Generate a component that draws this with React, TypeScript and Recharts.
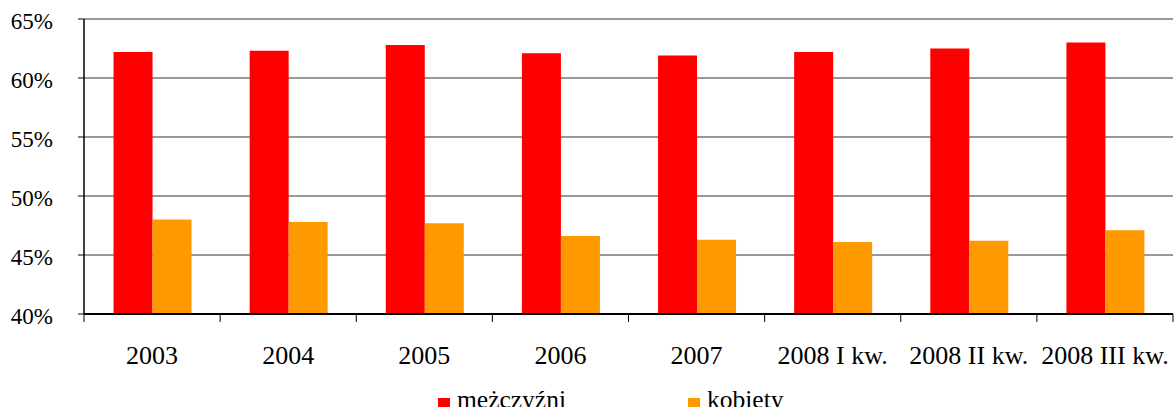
import React from "react";
import { BarChart, Bar, XAxis, YAxis, CartesianGrid, Legend } from "recharts";

const categories = ["2003", "2004", "2005", "2006", "2007", "2008 I kw.", "2008 II kw.", "2008 III kw."];
const men = [62.2, 62.3, 62.8, 62.1, 61.9, 62.2, 62.5, 63.0];
const women = [48.0, 47.8, 47.7, 46.6, 46.3, 46.1, 46.2, 47.1];
const yTicks = [40, 45, 50, 55, 60, 65];
const seriesNames = ["mężczyźni", "kobiety"];
const colors = ["#FF0000", "#FF9900"];

const data = categories.map((c, i) => ({ name: c, men: men[i], women: women[i] }));

const FONT = "Liberation Serif";

const XTick = (props: any) => {
  const { x, y, payload, index, visibleTicksCount } = props;
  const off = payload.offset || 0;
  const axisY = y - 10;
  return (
    <g>
      <line x1={x - off} x2={x - off} y1={axisY} y2={axisY + 8} stroke="#000" strokeWidth={1} />
      {index === visibleTicksCount - 1 && (
        <line x1={x + off} x2={x + off} y1={axisY} y2={axisY + 8} stroke="#000" strokeWidth={1} />
      )}
      <text x={x} y={axisY + 50} textAnchor="middle" fontFamily={FONT} style={{ fontFamily: FONT, fontSize: 26 }} fill="#000">
        {payload.value}
      </text>
    </g>
  );
};

const YTick = (props: any) => {
  const { x, y, payload } = props;
  return (
    <g>
      <text x={x} y={y} dy={10} textAnchor="end" fontFamily={FONT} style={{ fontFamily: FONT, fontSize: 23 }} fill="#000">
        {`${payload.value}%`}
      </text>
    </g>
  );
};

const LegendContent = () => (
  <div style={{ display: "flex", fontFamily: FONT, fontSize: 25.5, lineHeight: "23px", color: "#000" }}>
    {seriesNames.map((n, i) => (
      <div key={n} style={{ display: "flex", alignItems: "flex-start", width: i === 0 ? 250 : 120 }}>
        <div style={{ width: 12, height: 12, background: colors[i], marginTop: 10, marginRight: 7 }} />
        <span>{n}</span>
      </div>
    ))}
  </div>
);

export default function App() {
  return (
    <div style={{ position: "absolute", left: 0, top: 0, width: 1175, height: 407, overflow: "hidden", background: "#fff", fontFamily: FONT }}>
      <BarChart
        width={1175}
        height={407}
        data={data}
        margin={{ top: 19, right: 2, bottom: 63, left: 0 }}
        barCategoryGap="21.7%"
        barGap={0}
      >
        <CartesianGrid vertical={false} stroke="#999" strokeWidth={2} />
        <XAxis
          dataKey="name"
          height={30}
          axisLine={{ stroke: "#000", strokeWidth: 2 }}
          tickLine={false}
          tick={<XTick />}
          tickSize={8}
          interval={0}
        />
        <YAxis
          width={84}
          domain={[40, 65]}
          ticks={yTicks}
          allowDataOverflow
          axisLine={{ stroke: "#000", strokeWidth: 1.5 }}
          tickLine={{ stroke: "#000" }}
          tickSize={6}
          tickMargin={25}
          tick={<YTick />}
        />
        <Legend
          layout="horizontal"
          verticalAlign="middle"
          align="center"
          content={<LegendContent />}
          wrapperStyle={{ position: "absolute", left: 438, top: 388, width: 500 }}
        />
        <Bar dataKey="men" name={seriesNames[0]} fill={colors[0]} isAnimationActive={false} />
        <Bar dataKey="women" name={seriesNames[1]} fill={colors[1]} isAnimationActive={false} />
      </BarChart>
    </div>
  );
}
